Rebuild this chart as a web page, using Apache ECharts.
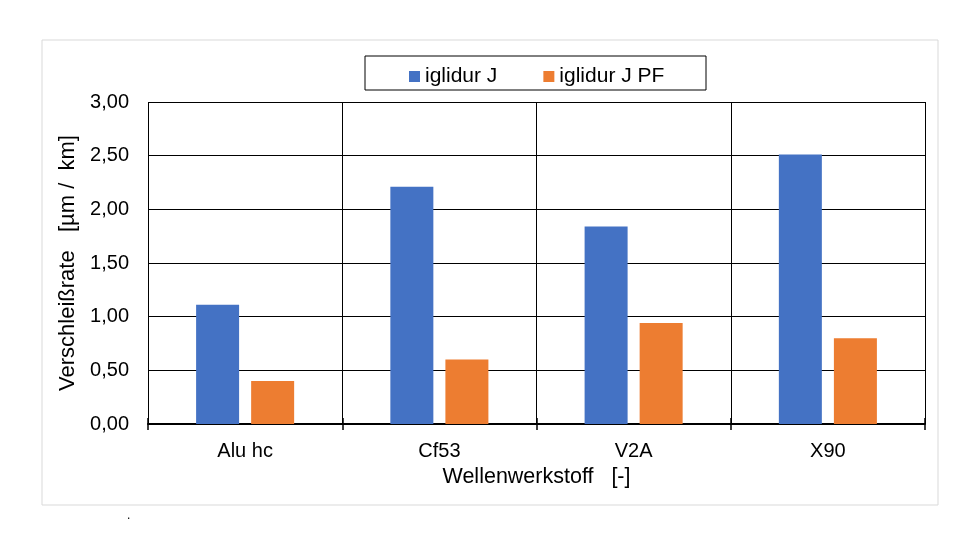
<!DOCTYPE html>
<html><head><meta charset="utf-8">
<script src="https://cdn.jsdelivr.net/npm/echarts@6/dist/echarts.min.js"></script>
<style>html,body{margin:0;padding:0;background:#fff}#c{width:980px;height:560px}</style>
</head><body><div id="c"></div>
<script>
const categories = ['Alu hc', 'Cf53', 'V2A', 'X90'];
const seriesNames = ['iglidur J', 'iglidur J PF'];
const valuesJ = [1.11, 2.21, 1.84, 2.51];
const valuesJPF = [0.40, 0.60, 0.94, 0.80];
const yTicks = [0, 0.5, 1, 1.5, 2, 2.5, 3];
const fmt = v => v.toFixed(2).replace('.', ',');
const F = 'Arial, "Liberation Sans", sans-serif';
const FS = 20;
const chart = echarts.init(document.getElementById('c'));
chart.setOption({
  animation: false,
  graphic: [
    {type:'rect', shape:{x:42,y:40,width:896,height:465}, style:{fill:'none', stroke:'#d9d9d9', lineWidth:1}},
    {type:'rect', shape:{x:365,y:56,width:341,height:34}, style:{fill:'#fff', stroke:'#000', lineWidth:1}, z:0},
    {type:'text', left:127, top:510, style:{text:'.', fontSize:12, fill:'#000', fontFamily:F}}
  ],
  legend: {
    data: seriesNames,
    top: 61, left: 404,
    itemWidth: 11, itemHeight: 11, itemGap: 46,
    icon: 'rect',
    textStyle: {fontSize: 21, color: '#000', fontFamily: F},
    z: 10
  },
  grid: {left: 148, right: 55, top: 102, bottom: 136},
  xAxis: [{
    type: 'category', data: categories,
    boundaryGap: true,
    name: 'Wellenwerkstoff   [-]', nameLocation: 'middle', nameGap: 42,
    nameTextStyle: {fontSize: 21.5, color: '#000', fontFamily: F},
    axisLine: {lineStyle: {color: '#000', width: 2}},
    axisTick: {show: true, length: 6, lineStyle: {color: '#000', width: 1.5}},
    axisLabel: {fontSize: FS, color: '#000', fontFamily: F, margin: 17},
    splitLine: {show: true, lineStyle: {color: '#000', width: 1}}
  }, {
    type: 'category', data: categories, position: 'bottom',
    boundaryGap: true,
    axisLine: {show: false},
    axisTick: {show: true, inside: true, length: 6, lineStyle: {color: '#000', width: 1.5}},
    axisLabel: {show: false},
    splitLine: {show: false}
  }],
  yAxis: {
    type: 'value', min: 0, max: 3, interval: 0.5,
    name: 'Verschleißrate   [µm /  km]', nameLocation: 'middle', nameGap: 65,
    nameTextStyle: {fontSize: 22, color: '#000', fontFamily: F},
    axisLine: {show: false}, axisTick: {show: false},
    axisLabel: {fontSize: FS, color: '#000', fontFamily: F, margin: 19, formatter: v => fmt(v)},
    splitLine: {show: true, lineStyle: {color: '#000', width: 1}}
  },
  series: [
    {name: seriesNames[0], type: 'bar', data: valuesJ, itemStyle: {color: '#4472c4'}, barWidth: 43, barGap: '28%'},
    {name: seriesNames[1], type: 'bar', data: valuesJPF, itemStyle: {color: '#ed7d31'}, barWidth: 43}
  ]
});
</script></body></html>
